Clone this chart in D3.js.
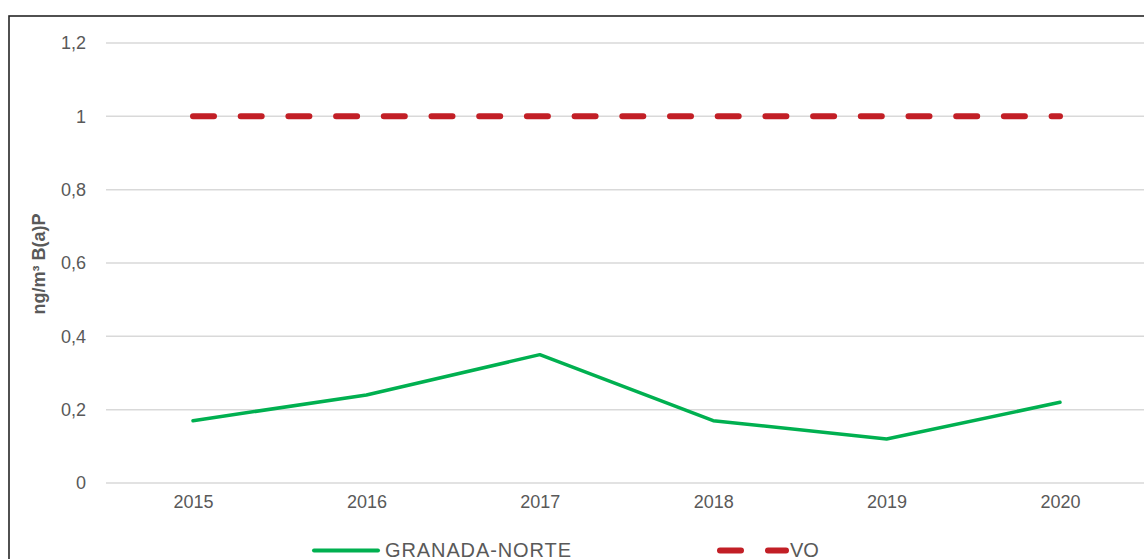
<!DOCTYPE html>
<html>
<head>
<meta charset="utf-8">
<script src="https://cdn.jsdelivr.net/npm/d3@7"></script>
<style>
  html, body { margin: 0; padding: 0; background: #fff; overflow: hidden; }
  svg { display: block; font-family: "Liberation Sans", Arial, sans-serif; }
</style>
</head>
<body>
<svg id="viz" width="1144" height="559"></svg>
<script>
// Data
const years = ["2015", "2016", "2017", "2018", "2019", "2020"];
const granadaNorte = [0.17, 0.24, 0.35, 0.17, 0.12, 0.22];
const vo = [1, 1, 1, 1, 1, 1];
const yTicks = [0, 0.2, 0.4, 0.6, 0.8, 1, 1.2];

const svg = d3.select("#viz");

// chart frame (runs off the right and bottom edges)
svg.append("rect")
    .attr("x", 9).attr("y", 16)
    .attr("width", 1200).attr("height", 600)
    .attr("fill", "none")
    .attr("stroke", "#262626")
    .attr("stroke-width", 1.6);

const xScale = d3.scalePoint()
    .domain(years)
    .range([106.3, 1146.7])
    .padding(0.5);

const yScale = d3.scaleLinear()
    .domain([0, 1.2])
    .range([483, 43]);

const fmt = d => String(+d.toFixed(1)).replace(".", ",");

// gridlines
svg.append("g")
    .selectAll("line")
    .data(yTicks)
    .join("line")
    .attr("x1", 106).attr("x2", 1144)
    .attr("y1", d => yScale(d)).attr("y2", d => yScale(d))
    .attr("stroke", "#d9d9d9")
    .attr("stroke-width", 1.5);

// y axis labels
const yAxis = d3.axisLeft(yScale).tickValues(yTicks).tickFormat(fmt).tickSize(0).tickPadding(0);
const yg = svg.append("g").attr("transform", "translate(86,0)").call(yAxis);
yg.select(".domain").remove();
yg.selectAll("text")
    .attr("font-family", "Liberation Sans, Arial, sans-serif")
    .attr("font-size", "18px")
    .attr("fill", "#595959");

// x axis labels
const xAxis = d3.axisBottom(xScale).tickSize(0).tickPadding(0);
const xg = svg.append("g").attr("transform", "translate(0,495)").call(xAxis);
xg.select(".domain").remove();
xg.selectAll("text")
    .attr("font-family", "Liberation Sans, Arial, sans-serif")
    .attr("font-size", "18px")
    .attr("fill", "#595959");

// y axis title
svg.append("text")
    .attr("transform", "translate(45,264) rotate(-90)")
    .attr("text-anchor", "middle")
    .attr("font-size", "18px")
    .attr("font-weight", "bold")
    .attr("fill", "#595959")
    .text("ng/m³ B(a)P");

const line = d3.line()
    .x((d, i) => xScale(years[i]))
    .y(d => yScale(d));

// VO limit value
svg.append("path")
    .datum(vo)
    .attr("d", line)
    .attr("fill", "none")
    .attr("stroke", "#C21F26")
    .attr("stroke-width", 6)
    .attr("stroke-linecap", "round")
    .attr("stroke-dasharray", "21,26.7");

// GRANADA-NORTE series
svg.append("path")
    .datum(granadaNorte)
    .attr("d", line)
    .attr("fill", "none")
    .attr("stroke", "#00B050")
    .attr("stroke-width", 3.5)
    .attr("stroke-linejoin", "round")
    .attr("stroke-linecap", "round");

// legend
const legendY = 550.5;
svg.append("line")
    .attr("x1", 314).attr("x2", 378)
    .attr("y1", legendY).attr("y2", legendY)
    .attr("stroke", "#00B050")
    .attr("stroke-width", 4)
    .attr("stroke-linecap", "round");
svg.append("text")
    .attr("x", 385).attr("y", 556.5)
    .attr("font-size", "20px")
    .attr("letter-spacing", "0.9px")
    .attr("fill", "#595959")
    .text("GRANADA-NORTE");

svg.append("line")
    .attr("x1", 720).attr("x2", 786)
    .attr("y1", legendY).attr("y2", legendY)
    .attr("stroke", "#C21F26")
    .attr("stroke-width", 6)
    .attr("stroke-linecap", "round")
    .attr("stroke-dasharray", "21,27");
svg.append("text")
    .attr("x", 790).attr("y", 556.5)
    .attr("font-size", "20px")
    .attr("fill", "#595959")
    .text("VO");
</script>
</body>
</html>
